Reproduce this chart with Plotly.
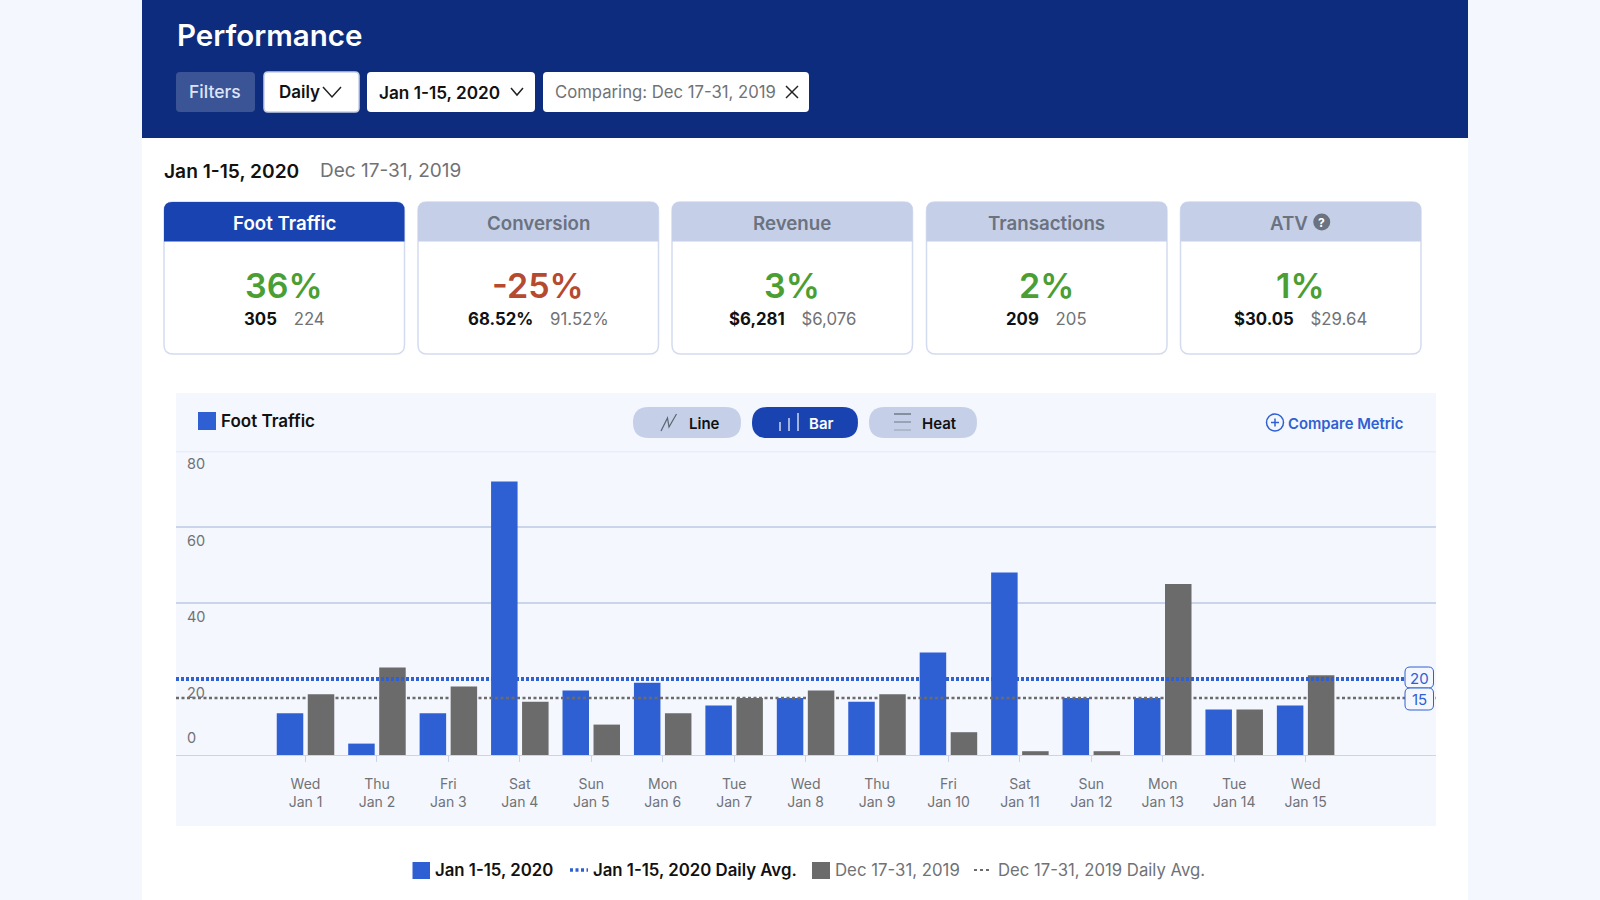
import plotly.graph_objects as go

# --- data ---
day_labels = ['Wed<br>Jan 1', 'Thu<br>Jan 2', 'Fri<br>Jan 3', 'Sat<br>Jan 4', 'Sun<br>Jan 5',
              'Mon<br>Jan 6', 'Tue<br>Jan 7', 'Wed<br>Jan 8', 'Thu<br>Jan 9', 'Fri<br>Jan 10',
              'Sat<br>Jan 11', 'Sun<br>Jan 12', 'Mon<br>Jan 13', 'Tue<br>Jan 14', 'Wed<br>Jan 15']
current_values = [11, 3, 11, 72, 17, 19, 13, 15, 14, 27, 48, 15, 15, 12, 13]
previous_values = [16, 23, 18, 14, 8, 11, 15, 17, 16, 6, 1, 1, 45, 12, 21]
current_avg = 20
previous_avg = 15
y_tick_values = [0, 20, 40, 60, 80]
y_grid_values = [40, 60]

current_name = 'Jan 1-15, 2020'
previous_name = 'Dec 17-31, 2019'
card_titles = ['Foot Traffic', 'Conversion', 'Revenue', 'Transactions', 'ATV']
card_changes = ['36%', '-25%', '3%', '2%', '1%']
card_current = ['305', '68.52%', '$6,281', '209', '$30.05']
card_previous = ['224', '91.52%', '$6,076', '205', '$29.64']

FONT = 'Inter'
NAVY = '#0D2C7D'
ROYAL = '#1A43B2'
BLUE = '#2F60D3'
GREY_BAR = '#6B6B6B'
GRID = '#CAD5EC'
PALE = '#C5D0E8'
PANEL = '#F4F7FE'
TEXT_GREY = '#707276'
GREEN = '#4A9E32'
RED = '#B54A30'
W, H = 1600, 900


def px(x):
    return x / W


def py(y):
    return 1 - y / H


def box_path(x0, y0, x1, y1, r, bottom=True):
    # pixel box to svg path in paper coordinates
    p = f'M{px(x0)},{py(y0 + r)} Q{px(x0)},{py(y0)} {px(x0 + r)},{py(y0)} '
    p += f'L{px(x1 - r)},{py(y0)} Q{px(x1)},{py(y0)} {px(x1)},{py(y0 + r)} '
    if bottom:
        p += f'L{px(x1)},{py(y1 - r)} Q{px(x1)},{py(y1)} {px(x1 - r)},{py(y1)} '
        p += f'L{px(x0 + r)},{py(y1)} Q{px(x0)},{py(y1)} {px(x0)},{py(y1 - r)} Z'
    else:
        p += f'L{px(x1)},{py(y1)} L{px(x0)},{py(y1)} Z'
    return p


def poly_path(points):
    return 'M' + ' L'.join(f'{px(x)},{py(y)}' for x, y in points)


fig = go.Figure()


def add_box(x0, y0, x1, y1, fill, line=None, r=0, bottom=True, width=1, layer='below'):
    fig.add_shape(type='path', path=box_path(x0, y0, x1, y1, r, bottom), xref='paper', yref='paper',
                  fillcolor=fill, line=dict(color=line or fill, width=width if line else 0), layer=layer)


def add_stroke(points, color, width=1.5, dash='solid'):
    fig.add_shape(type='path', path=poly_path(points), xref='paper', yref='paper',
                  line=dict(color=color, width=width, dash=dash), layer='above')


def add_circle(cx, cy, r, fill, line=None, width=1.5):
    fig.add_shape(type='circle', xref='paper', yref='paper', x0=px(cx - r), x1=px(cx + r),
                  y0=py(cy + r), y1=py(cy - r), fillcolor=fill,
                  line=dict(color=line or fill, width=width if line else 0), layer='above')


def add_text(x, y, s, size, color, anchor='left', weight=400):
    fig.add_annotation(x=px(x), y=py(y), xref='paper', yref='paper', text=s, showarrow=False,
                       xanchor=anchor, yanchor='middle', borderpad=0,
                       font=dict(family=FONT, size=size, color=color, weight=weight))


# --- page ---
add_box(142, 0, 1468, 900, 'white')
add_box(142, 0, 1468, 138, NAVY)
add_text(176, 34.5, 'Performance', 29.5, 'white', weight=600)

add_box(176, 72, 255, 112, '#3A5496', r=4)
add_text(215.5, 91, 'Filters', 17.5, '#DDE4F6', 'center', 500)
add_box(264, 72, 359, 112, 'white', '#C5D0E8', r=4, width=1.5)
add_text(277.5, 92, 'Daily', 17, '#111111', weight=600)
add_stroke([(323, 87), (332, 97), (341, 87)], '#222222')
add_box(367, 72, 535, 112, 'white', r=4)
add_text(378, 92, current_name, 17.2, '#111111', weight=600)
add_stroke([(511, 88), (517, 95), (523, 88)], '#222222')
add_box(543, 72, 809, 112, 'white', r=4)
add_text(553.5, 92, 'Comparing: ' + previous_name, 16.7, TEXT_GREY)
add_stroke([(786, 86), (798, 98)], '#222222')
add_stroke([(798, 86), (786, 98)], '#222222')

add_text(163, 171, current_name, 19.2, '#111111', weight=600)
add_text(318.5, 171, previous_name, 19, TEXT_GREY)

# --- metric cards ---
card_left = [164, 418, 672, 926.5, 1180.5]
for i, title in enumerate(card_titles):
    x0 = card_left[i]
    x1 = x0 + 240.5
    cx = (x0 + x1) / 2
    add_box(x0, 202, x1, 354, 'white', '#D3DBEF', r=9, width=1.5)
    add_box(x0, 202, x1, 241.5, ROYAL if i == 0 else PALE, r=8, bottom=False)
    title_color = 'white' if i == 0 else '#6B7280'
    if title == 'ATV':
        add_text(cx - 12, 223, title, 18.7, title_color, 'center', 600)
        add_circle(cx + 21, 222, 8.5, '#6B7280')
        add_text(cx + 21, 222, '?', 12, 'white', 'center', 700)
    else:
        add_text(cx, 223, title, 18.7, title_color, 'center', 600)
    change_color = RED if card_changes[i].startswith('-') else GREEN
    add_text(cx, 286, card_changes[i], 34, change_color, 'center', 600)
    add_text(cx, 318.5, f'<b>{card_current[i]}</b>\u2003<span style="color:{TEXT_GREY}">{card_previous[i]}</span>',
             16.8, '#111111', 'center')

# --- chart panel ---
add_box(176, 393, 1436, 826, PANEL)
add_box(198, 412, 216, 430, BLUE)
add_text(220, 421.5, card_titles[0], 17, '#111111', weight=600)
add_box(176, 451, 1436, 452.5, '#E9EEFA')

add_box(633, 407, 741, 438, PALE, r=15.5)
add_stroke([(661, 431), (667.5, 418), (669, 427), (676.5, 414)], '#5C6470', 1.2)
add_text(704, 424, 'Line', 15, '#111111', 'center', 600)

add_box(752, 407, 858, 438, ROYAL, r=15.5)
for bar_x, bar_top in [(780, 422), (789, 418), (798, 413)]:
    add_stroke([(bar_x, bar_top), (bar_x, 431)], 'white', 1.2)
add_text(821, 424, 'Bar', 15, 'white', 'center', 600)

add_box(869, 407, 977, 438, PALE, r=15.5)
for line_y, line_color in [(414, '#5C6470'), (422, '#7C8494'), (430, '#A0A8B8')]:
    add_stroke([(894, line_y), (911, line_y)], line_color, 1.2)
add_text(939, 424, 'Heat', 15, '#111111', 'center', 600)

add_circle(1275, 422.5, 8.5, PANEL, BLUE)
add_stroke([(1271, 422.5), (1279, 422.5)], BLUE)
add_stroke([(1275, 418.5), (1275, 426.5)], BLUE)
add_text(1287, 424, 'Compare Metric', 14.8, BLUE, weight=600)

# --- bars ---
fig.add_trace(go.Bar(x=day_labels, y=current_values, name=current_name, marker_color=BLUE, marker_line_width=0))
fig.add_trace(go.Bar(x=day_labels, y=previous_values, name=previous_name, marker_color=GREY_BAR, marker_line_width=0))

fig.add_hline(y=current_avg, line=dict(color=BLUE, width=4, dash='3px,2px'))
fig.add_hline(y=previous_avg, line=dict(color=GREY_BAR, width=2.5, dash='3px,2.5px'))

for tick in y_tick_values:
    fig.add_annotation(x=px(184.5), y=tick, xref='paper', yref='y', text=str(tick), showarrow=False,
                       xanchor='left', yanchor='middle', yshift=18 if tick == 0 else -13,
                       font=dict(family=FONT, size=14.5, color=TEXT_GREY))

# average badges on the right edge
add_box(1405, 667, 1433.5, 688, PANEL, BLUE, r=5, layer='above')
add_text(1419, 678.5, str(current_avg), 15, BLUE, 'center')
add_box(1405, 688, 1433.5, 710, PANEL, BLUE, r=5, layer='above')
add_text(1419, 699.5, str(previous_avg), 15, BLUE, 'center')

# --- legend row ---
add_box(412.5, 862, 430, 879, BLUE)
add_text(433.5, 870, current_name, 16.8, '#111111', weight=600)
add_stroke([(570, 870), (588, 870)], BLUE, 3.5, '3px,2.5px')
add_text(591.5, 870, current_name + ' Daily Avg.', 16.8, '#111111', weight=600)
add_box(812, 862, 830, 879, GREY_BAR)
add_text(833.5, 870, previous_name, 16.8, TEXT_GREY)
add_stroke([(974, 870), (992, 870)], GREY_BAR, 2, '3px,3px')
add_text(996.5, 870, previous_name + ' Daily Avg.', 16.7, TEXT_GREY)

fig.update_layout(
    width=W, height=H,
    margin=dict(t=0, b=0, l=0, r=0),
    paper_bgcolor='#F5F7FE',
    plot_bgcolor='rgba(0,0,0,0)',
    showlegend=False,
    barmode='group',
    bargap=0.132,
    bargroupgap=0.145,
    font=dict(family=FONT),
    xaxis=dict(domain=[px(176), px(1436)], range=[-1.813, 15.825], type='category',
               tickmode='array', tickvals=day_labels, ticks='outside', ticklen=6, tickcolor=GRID,
               showline=True, linecolor=GRID, linewidth=1, showgrid=False, zeroline=False,
               ticklabelstandoff=10, tickfont=dict(family=FONT, size=14, color=TEXT_GREY)),
    yaxis=dict(domain=[py(755), py(451)], range=[0, 80], tickvals=y_grid_values,
               showticklabels=False, ticks='', gridcolor=GRID, gridwidth=1.5, zeroline=False),
)

fig.write_html("out.html", config={'displayModeBar': False}, post_script="document.body.style.margin='0';")
